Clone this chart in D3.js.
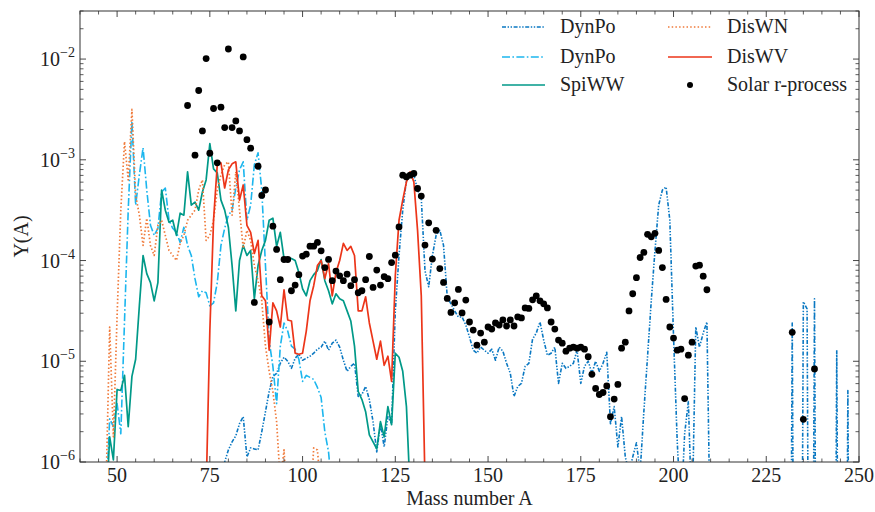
<!DOCTYPE html>
<html><head><meta charset="utf-8">
<script src="https://cdn.jsdelivr.net/npm/d3@7"></script>
<style>body{margin:0;background:#fff} text{font-family:"Liberation Serif","Times New Roman",serif;fill:#222}</style>
</head><body><svg id="c" width="875" height="512"></svg>
<script>
// ---------------- DATA (log10 of Y(A)) ----------------
const xTicks = [50, 75, 100, 125, 150, 175, 200, 225, 250];
const yTickExps = [-6, -5, -4, -3, -2];

// DynPo (dark blue, dash-dot-dot), mass numbers from 78
const dynPo1Start = 78;
const dynPo1Log = [
 -6.6,-6.0,-5.88,-5.8,-5.74,-5.62,-5.55,-5.95,-5.86,-5.87, // 78-87
 -5.88,-5.7,-5.5,-5.3,-5.15,-5.12,-5.02,-4.96,-5.0,-5.07,   // 88-97
 -4.97,-4.93,-4.99,-4.97,-4.95,-4.92,-4.88,-4.86,-4.8,-4.89, // 98-107
 -4.82,-4.79,-4.86,-4.99,-5.1,-5.05,-5.02,-5.35,-5.33,-5.25, // 108-117
 -5.38,-5.6,-5.9,-5.62,-5.85,-5.55,-5.62,-4.5,-3.95,-3.5,    // 118-127
 -3.2,-3.13,-3.15,-3.3,-3.38,-4.1,-4.26,-3.95,-3.75,-3.7,    // 128-137
 -3.85,-4.36,-4.43,-4.5,-4.56,-4.56,-4.64,-4.76,-4.89,-4.92, // 138-147
 -4.86,-4.89,-4.92,-4.88,-4.99,-4.86,-4.9,-5.02,-5.12,-5.35, // 148-157
 -5.25,-5.22,-5.05,-5.02,-4.78,-4.72,-4.61,-4.79,-4.94,-4.92, // 158-167
 -4.86,-5.22,-5.02,-5.07,-5.05,-5.02,-4.89,-5.22,-5.05,-5.0, // 168-177
 -5.12,-5.0,-5.1,-5.02,-4.91,-5.62,-5.45,-5.85,-5.55,-5.95,  // 178-187
 -6.1,-5.95,-5.81,-6.1,-5.5,-4.95,-4.4,-3.9,-3.45,-3.3,      // 188-197
 -3.27,-3.6,-4.75,-5.8,-6.5,-5.72,-5.4,-6.6,-4.66,-4.86,     // 198-207
 -4.72,-4.61,-7,-12,-12,-12,-12,-12,-12,-12,                 // 208-217
 -12,-12,-12,-12,-12,-12,-12,-12,-12,-12,                    // 218-227
 -12,-12,-12,-12,-4.62,-12,-12,-4.41,-4.48,-12,              // 228-237
 -4.38,-12,-12,-12,-12,-12,-4.89,-12,-12,-5.29,              // 238-247
 -12                                                         // 248
];

// DynPo (light blue, dash-dot), mass numbers from 47
const dynPo2Start = 47;
const dynPo2Log = [
 -6.4,-5.57,-5.65,-5.42,-5.72,-4.6,-3.5,-2.62,-3.45,-3.15,   // 47-56
 -2.88,-3.3,-3.65,-3.75,-3.68,-3.32,-3.28,-3.6,-3.68,-3.72,  // 57-66
 -3.82,-3.67,-3.85,-3.95,-4.18,-4.36,-4.3,-4.32,-4.45,-4.42, // 67-76
 -4.22,-3.85,-3.68,-3.55,-3.5,-3.28,-3.1,-3.02,-3.6,-3.45,   // 77-86
 -3.05,-2.93,-3.3,-4.05,-4.8,-5.05,-5.42,-4.85,-4.62,-4.7,   // 87-96
 -4.85,-4.88,-4.98,-5.2,-5.14,-5.16,-5.18,-5.26,-5.36,-5.7,  // 97-106
 -5.9,-6.3                                                   // 107-108
];

// SpiWW (teal, solid), mass numbers from 47
const spiWWStart = 47;
const spiWWLog = [
 -6.5,-5.75,-5.98,-5.28,-5.29,-5.14,-5.65,-5.15,-4.98,-4.45, // 47-56
 -3.95,-4.13,-4.22,-4.4,-4.22,-3.3,-3.5,-3.62,-3.6,-3.75,    // 57-66
 -3.53,-3.55,-3.12,-3.45,-3.42,-3.5,-3.32,-3.2,-2.84,-3.09,  // 67-76
 -3.13,-3.4,-3.5,-3.67,-4.05,-4.5,-4.0,-3.85,-3.95,-3.9,     // 77-86
 -4.38,-4.05,-3.9,-3.8,-3.6,-3.58,-3.86,-3.72,-3.98,-3.97,   // 87-96
 -3.98,-4.0,-4.12,-4.28,-4.35,-4.2,-4.14,-4.1,-3.99,-4.2,    // 97-106
 -4.3,-4.43,-4.33,-4.38,-4.4,-4.5,-4.6,-4.85,-5.3,-5.38,     // 107-116
 -5.5,-5.73,-5.8,-5.87,-5.6,-5.75,-5.45,-5.63,-4.92,-4.96,   // 117-126
 -5.1,-5.45,-6.3,-7                                          // 127-130
];

// DisWN (orange, dotted), mass numbers from 46
const disWNStart = 46;
const disWNLog = [
 -7.5,-6.3,-4.66,-5.75,-4.55,-3.5,-2.82,-3.2,-2.5,-3.35,     // 46-55
 -3.55,-3.85,-3.58,-3.85,-3.95,-3.65,-3.6,-3.75,-3.9,-3.95,  // 56-65
 -4.0,-3.83,-3.75,-3.6,-3.55,-3.5,-3.3,-3.2,-3.8,-3.75,      // 66-75
 -3.6,-3.3,-3.15,-3.05,-3.02,-3.55,-3.12,-3.5,-3.88,-3.7,    // 76-85
 -3.8,-4.05,-4.2,-4.4,-4.85,-5.1,-5.3,-5.6,-6.2,-5.88,       // 86-95
 -6.5,-7.5,-7.5,-7.5,-7.5,-7.5,-6.5,-5.86,-5.88,-6.3,        // 96-105
 -7.5                                                        // 106
];

// DisWV (red, solid), mass numbers from 73
const disWVStart = 73;
const disWVLog = [
 -7.5,-6.3,-4.7,-3.6,-3.05,-3.03,-3.28,-3.1,-3.04,-3.02,     // 73-82
 -3.4,-3.25,-3.65,-3.72,-3.93,-3.8,-4.35,-4.4,-4.89,-4.42,   // 83-92
 -4.5,-4.66,-4.29,-4.59,-4.6,-4.92,-4.93,-4.92,-4.7,-4.4,    // 93-102
 -4.25,-4.05,-4.0,-4.18,-4.03,-4.35,-4.12,-4.0,-3.83,-3.9,   // 103-112
 -3.86,-3.95,-4.5,-4.5,-4.36,-4.62,-4.8,-4.98,-4.8,-5.04,    // 113-122
 -4.95,-5.2,-4.15,-3.6,-3.4,-3.22,-3.12,-3.22,-3.7,-4.35,    // 123-132
 -6.2,-7.5                                                   // 133-134
];

// Solar r-process abundances (black dots)
const solarA = [69,71,72,73,74,75,76,77,78,79,80,81,82,83,84,85,86,87,88,89,90,91,92,93,94,95,96,97,98,99,
 100,101,102,103,104,105,106,107,108,109,110,111,112,113,114,115,116,117,118,119,120,121,122,123,124,125,126,127,128,129,
 130,131,132,133,134,135,136,137,138,139,140,141,142,143,144,145,146,147,148,149,150,151,152,153,154,155,156,157,158,159,
 160,161,162,163,164,165,166,167,168,169,170,171,172,173,174,175,176,177,178,179,180,181,182,183,184,185,186,187,188,189,
 190,191,192,193,194,195,196,197,198,199,200,201,202,203,204,205,206,207,208,209,232,235,238];
const solarLog = [-2.461,-2.954,-2.312,-2.713,-1.995,-2.935,-2.491,-3.03,-2.478,-2.68,-1.90,-2.68,-2.614,-2.713,-1.979,-2.80,-2.885,-4.416,-3.064,-3.354,-3.30,-4.61,-3.659,-3.89,-4.19,-3.99,-3.99,-4.30,-4.244,-4.14,
 -3.956,-3.937,-3.857,-3.857,-3.82,-3.904,-4.07,-3.989,-4.20,-4.105,-4.152,-4.2,-4.135,-4.25,-4.19,-4.32,-4.30,-4.19,-3.96,-4.267,-4.095,-4.244,-4.16,-4.18,-4.02,-3.947,-3.666,-3.153,-3.17,-3.153,
 -3.136,-3.285,-3.36,-3.847,-3.626,-3.986,-3.70,-4.08,-4.217,-4.376,-4.515,-4.42,-4.287,-4.52,-4.393,-4.61,-4.69,-4.84,-4.72,-4.81,-4.66,-4.68,-4.62,-4.64,-4.59,-4.65,-4.59,-4.65,-4.56,-4.57,
 -4.47,-4.475,-4.39,-4.35,-4.40,-4.43,-4.47,-4.61,-4.68,-4.79,-4.82,-4.90,-4.87,-4.86,-4.87,-4.86,-4.88,-4.955,-5.13,-5.27,-5.33,-5.31,-5.245,-5.55,-5.375,-5.23,-4.87,-4.81,-4.50,-4.33,
 -4.17,-3.97,-3.92,-3.74,-3.765,-3.73,-3.90,-4.07,-4.386,-4.66,-4.77,-4.89,-4.88,-5.37,-4.94,-4.81,-4.055,-4.046,-4.155,-4.29,-4.713,-5.576,-5.077];

const seriesNames = ["DynPo", "DynPo", "SpiWW", "DisWN", "DisWV", "Solar r-process"];

// ---------------- DRAWING ----------------
const W = 875, H = 512;
const M = {left: 80, right: 859, top: 11, bottom: 462};
const svg = d3.select("#c");
const x = d3.scaleLinear().domain([40, 250]).range([M.left, M.right]);
const y = d3.scaleLog().domain([1e-6, 0.03]).range([M.bottom, M.top]);

const styles = [
  {color: "#0a78c2", dash: "4,1.6,1.4,1.6,1.4,1.6", w: 1.6},
  {color: "#1cb6ee", dash: "8,2.4,1.6,2.4", w: 1.6},
  {color: "#009988", dash: null, w: 1.7},
  {color: "#f07a3a", dash: "1.5,2.2", w: 1.7},
  {color: "#ec3519", dash: null, w: 1.7}
];

const seriesList = [
  [dynPo1Start, dynPo1Log], [dynPo2Start, dynPo2Log], [spiWWStart, spiWWLog],
  [disWNStart, disWNLog], [disWVStart, disWVLog]
].map(([s, arr]) => arr.map((l, i) => ({a: s + i, v: Math.pow(10, l)})));

svg.append("defs").append("clipPath").attr("id", "clip")
  .append("rect").attr("x", M.left).attr("y", M.top)
  .attr("width", M.right - M.left).attr("height", M.bottom - M.top);

const plot = svg.append("g").attr("clip-path", "url(#clip)");
const line = d3.line().x(d => x(d.a)).y(d => y(d.v));

seriesList.forEach((data, i) => {
  const st = styles[i];
  plot.append("path").datum(data).attr("d", line)
    .attr("fill", "none").attr("stroke", st.color).attr("stroke-width", st.w)
    .attr("stroke-dasharray", st.dash).attr("stroke-linejoin", "round");
});

plot.selectAll("circle.solar").data(solarA.map((a, i) => ({a, v: Math.pow(10, solarLog[i])})))
  .enter().append("circle").attr("class", "solar")
  .attr("cx", d => x(d.a)).attr("cy", d => y(d.v)).attr("r", 3.4).attr("fill", "#000");

// ---- axes (ticks inward on all four sides) ----
const axisColor = "#333";
const xMinor = d3.range(40, 251, 5).filter(v => v % 25 !== 0);
const yMinor = [];
yTickExps.forEach(e => { for (let m = 2; m <= 9; m++) { const v = m * Math.pow(10, e); if (v <= 0.03) yMinor.push(v); } });

function ticksX(yPos, dir) {
  const g = svg.append("g");
  g.selectAll("line.maj").data(xTicks).enter().append("line")
    .attr("x1", d => x(d)).attr("x2", d => x(d)).attr("y1", yPos).attr("y2", yPos + dir * 6)
    .attr("stroke", axisColor).attr("stroke-width", 0.9);
  g.selectAll("line.min").data(xMinor).enter().append("line")
    .attr("x1", d => x(d)).attr("x2", d => x(d)).attr("y1", yPos).attr("y2", yPos + dir * 3.5)
    .attr("stroke", axisColor).attr("stroke-width", 0.8);
}
function ticksY(xPos, dir) {
  const g = svg.append("g");
  g.selectAll("line.maj").data(yTickExps).enter().append("line")
    .attr("y1", d => y(Math.pow(10, d))).attr("y2", d => y(Math.pow(10, d)))
    .attr("x1", xPos).attr("x2", xPos + dir * 6)
    .attr("stroke", axisColor).attr("stroke-width", 0.9);
  g.selectAll("line.min").data(yMinor).enter().append("line")
    .attr("y1", d => y(d)).attr("y2", d => y(d)).attr("x1", xPos).attr("x2", xPos + dir * 3.5)
    .attr("stroke", axisColor).attr("stroke-width", 0.8);
}
ticksX(M.bottom, -1); ticksX(M.top, 1);
ticksY(M.left, 1); ticksY(M.right, -1);

svg.append("rect").attr("x", M.left).attr("y", M.top)
  .attr("width", M.right - M.left).attr("height", M.bottom - M.top)
  .attr("fill", "none").attr("stroke", axisColor).attr("stroke-width", 1);

// tick labels
svg.selectAll("text.xt").data(xTicks).enter().append("text")
  .attr("x", d => x(d)).attr("y", 482).attr("text-anchor", "middle")
  .attr("font-size", 20).text(d => d);

const yl = svg.selectAll("text.yt").data(yTickExps).enter().append("text")
  .attr("x", 75).attr("y", d => y(Math.pow(10, d)) + 7).attr("text-anchor", "end")
  .attr("font-size", 20);
yl.append("tspan").text("10");
yl.append("tspan").attr("dy", -9).attr("font-size", 14).text(d => "\u2212" + Math.abs(d));

// axis titles
svg.append("text").attr("x", (M.left + M.right) / 2).attr("y", 505)
  .attr("text-anchor", "middle").attr("font-size", 20).text("Mass number A");
svg.append("text").attr("transform", `translate(28,${(M.top + M.bottom) / 2}) rotate(-90)`)
  .attr("text-anchor", "middle").attr("font-size", 20).text("Y(A)");

// legend
const legRows = [27, 57, 85];
const legCols = [{x1: 502, x2: 545, tx: 560}, {x1: 668, x2: 712, tx: 727}];
seriesNames.forEach((name, i) => {
  const col = legCols[Math.floor(i / 3)], ry = legRows[i % 3];
  if (i < 5) {
    const st = styles[i];
    svg.append("line").attr("x1", col.x1).attr("x2", col.x2).attr("y1", ry).attr("y2", ry)
      .attr("stroke", st.color).attr("stroke-width", st.w).attr("stroke-dasharray", st.dash);
  } else {
    svg.append("circle").attr("cx", (col.x1 + col.x2) / 2).attr("cy", ry).attr("r", 3).attr("fill", "#000");
  }
  svg.append("text").attr("x", col.tx).attr("y", ry + 6).attr("font-size", 20).text(name);
});
</script></body></html>
